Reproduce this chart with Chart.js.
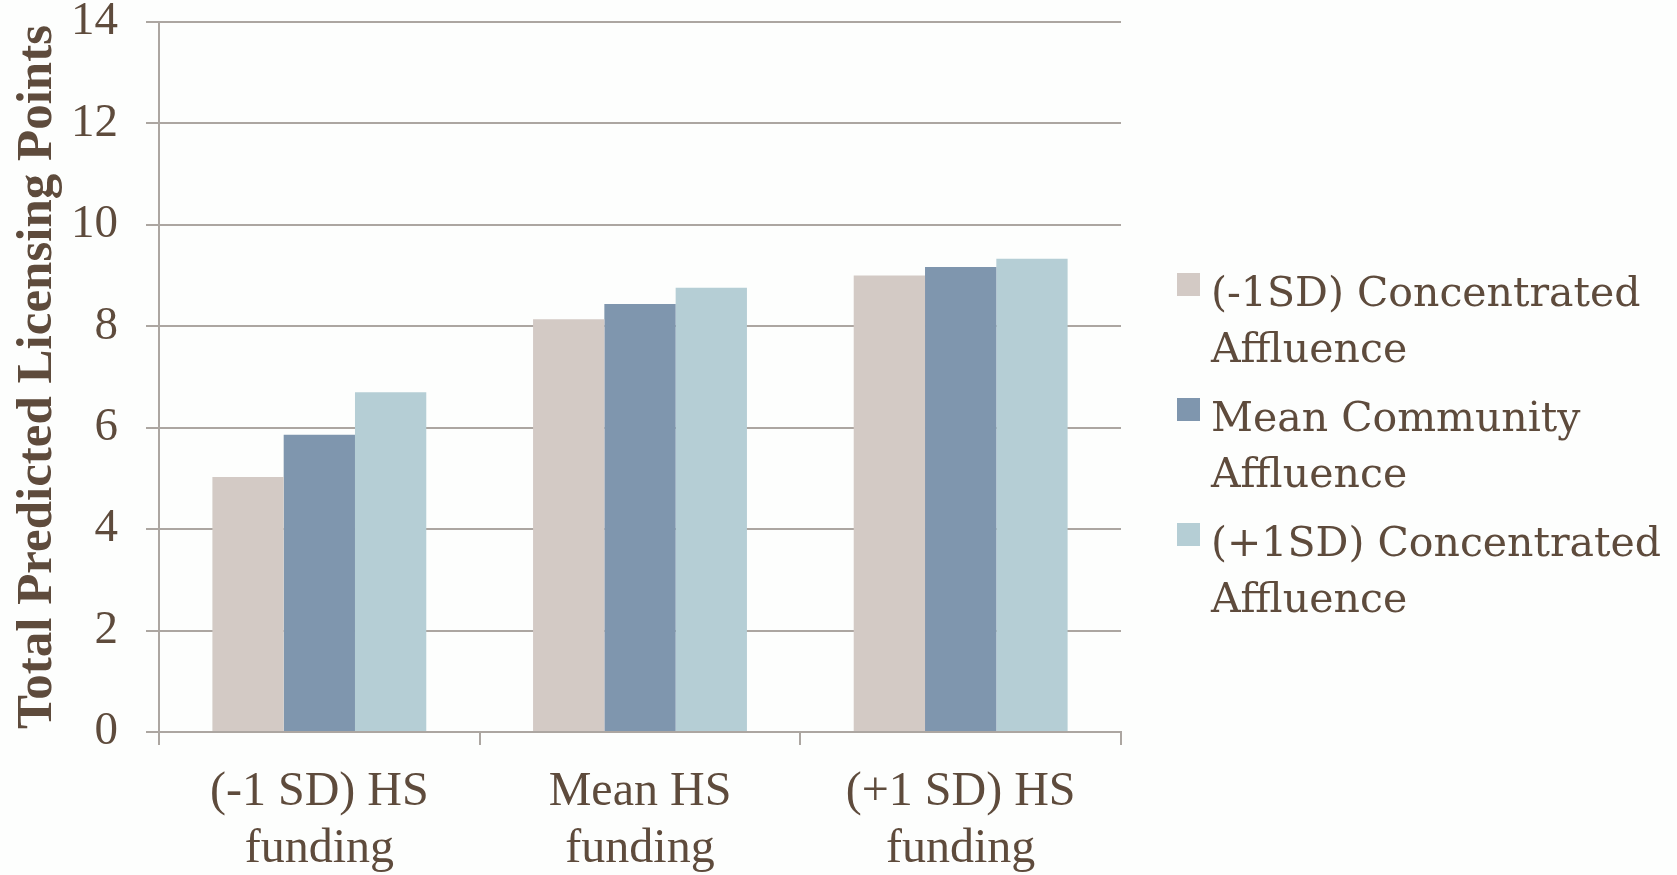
<!DOCTYPE html>
<html>
<head>
<meta charset="utf-8">
<script src="https://cdn.jsdelivr.net/npm/chart.js@4.4.1/dist/chart.umd.min.js"></script>
<style>
  html, body { margin: 0; padding: 0; background: #fdfefd; }
  #wrap { position: relative; width: 1677px; height: 875px; }
  #chart { position: absolute; left: 0; top: 0; }
  #legend { position: absolute; left: 1179px; top: 264px; font-family: "DejaVu Serif", serif; font-size: 41px; line-height: 56px; color: #5e4b3c; }
  .item { position: relative; padding-left: 32px; height: 112px; margin-bottom: 13px; white-space: nowrap; }
  .swatch { position: absolute; left: -2px; top: 9px; width: 23px; height: 23px; }
</style>
</head>
<body>
<div id="wrap">
  <canvas id="chart" width="1677" height="875"></canvas>
  <div id="legend"></div>
</div>
<script>
// Funding levels along the x axis (each label wraps onto two lines)
const categories = [
  ['(-1 SD) HS', 'funding'],
  ['Mean HS', 'funding'],
  ['(+1 SD) HS', 'funding']
];

// Series names as shown in the legend (line breaks included)
const seriesNames = [
  ['(-1SD) Concentrated', 'Affluence'],
  ['Mean Community', 'Affluence'],
  ['(+1SD) Concentrated', 'Affluence']
];

// Predicted licensing points per funding level
const lowAffluence  = [5.03, 8.14, 9.00];
const meanAffluence = [5.86, 8.44, 9.17];
const highAffluence = [6.70, 8.76, 9.33];

const seriesColors = ['#d3cac5', '#7f96ae', '#b5ced5'];

// Value axis ticks
const yTicks = [0, 2, 4, 6, 8, 10, 12, 14];

const textColor = '#5e4b3c';
const gridColor = '#aca6a1';

const seriesValues = [lowAffluence, meanAffluence, highAffluence];

const datasets = seriesValues.map((vals, i) => ({
  label: seriesNames[i].join(' '),
  data: vals,
  backgroundColor: seriesColors[i],
  borderWidth: 0,
  categoryPercentage: 0.667,
  barPercentage: 1.0
}));

new Chart(document.getElementById('chart'), {
  type: 'bar',
  data: { labels: categories, datasets: datasets },
  options: {
    responsive: false,
    animation: false,
    layout: { padding: { left: 12, right: 556, top: 22, bottom: 0 } },
    plugins: {
      legend: { display: false },
      tooltip: { enabled: false }
    },
    scales: {
      x: {
        afterFit: (scale) => { scale.height = 143; },
        grid: {
          offset: true,
          drawOnChartArea: false,
          drawTicks: true,
          tickLength: 13,
          color: gridColor,
          lineWidth: 2
        },
        border: { display: true, color: gridColor, width: 2 },
        ticks: {
          color: textColor,
          padding: 19,
          font: { family: '"Liberation Serif", serif', size: 48, lineHeight: 1.19 },
          maxRotation: 0,
          autoSkip: false
        }
      },
      y: {
        min: yTicks[0],
        max: yTicks[yTicks.length - 1],
        afterBuildTicks: (axis) => { axis.ticks = yTicks.map(v => ({ value: v })); },
        afterFit: (scale) => {
          scale.width = 147;
          scale.paddingTop = 0;
          scale.paddingBottom = 0;
        },
        grid: {
          color: gridColor,
          lineWidth: 2,
          drawTicks: true,
          tickLength: 13
        },
        border: { display: true, color: gridColor, width: 2 },
        ticks: {
          color: textColor,
          padding: 28,
          font: { family: '"Liberation Serif", serif', size: 47, lineHeight: 1 }
        },
        title: {
          display: true,
          text: 'Total Predicted Licensing Points',
          color: textColor,
          padding: { top: 0, bottom: 9 },
          font: { family: '"Liberation Serif", serif', size: 51, weight: 'bold', lineHeight: 1 }
        }
      }
    }
  }
});

// Legend built from the series names and colours
const legend = document.getElementById('legend');
seriesNames.forEach((lines, i) => {
  const item = document.createElement('div');
  item.className = 'item';
  const sw = document.createElement('span');
  sw.className = 'swatch';
  sw.style.background = seriesColors[i];
  item.appendChild(sw);
  lines.forEach(line => {
    const d = document.createElement('div');
    d.textContent = line;
    item.appendChild(d);
  });
  legend.appendChild(item);
});
</script>
</body>
</html>
